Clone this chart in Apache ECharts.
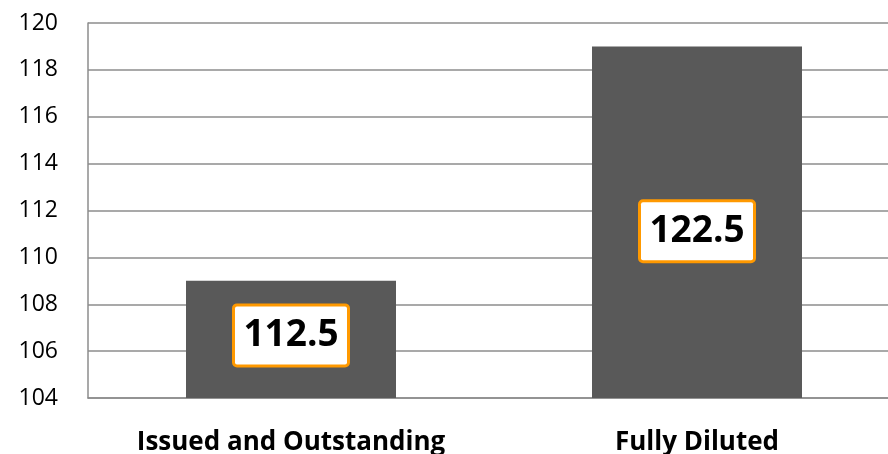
<!DOCTYPE html>
<html>
<head>
<meta charset="utf-8">
<script src="https://cdn.jsdelivr.net/npm/echarts@6/dist/echarts.min.js"></script>
<style>html,body{margin:0;padding:0;background:#fff;overflow:hidden}#wrap{position:relative;width:888px;height:454px;overflow:hidden}#c{position:absolute;left:0;top:0;width:900px;height:454px}</style>
</head>
<body>
<div id="wrap"><div id="c"></div></div>
<script>
var categories = ['Issued and Outstanding', 'Fully Diluted'];
var values = [109, 119];
var labelTexts = ['112.5', '122.5'];
var yTicks = [104, 106, 108, 110, 112, 114, 116, 118, 120];

var labelOffsets = [[0, -4], [0, 9]];
var chart = echarts.init(document.getElementById('c'), null, {renderer: 'canvas'});
chart.setOption({
  animation: false,
  backgroundColor: '#fff',
  grid: {left: 88, right: 0, top: 23, height: 375, containLabel: false, outerBoundsMode: 'none'},
  xAxis: {
    type: 'category',
    data: categories,
    axisLine: {show: true, lineStyle: {color: '#8c8c8c', width: 1.5}},
    axisTick: {show: false},
    axisLabel: {color: '#000', fontFamily: 'Open Sans', fontWeight: 'bold', fontSize: 26, margin: 32}
  },
  yAxis: {
    type: 'value',
    min: yTicks[0],
    max: yTicks[yTicks.length - 1],
    interval: 2,
    axisLine: {show: true, lineStyle: {color: '#8c8c8c', width: 1.5}},
    axisTick: {show: false},
    splitLine: {show: true, lineStyle: {color: '#8c8c8c', width: 1.5}},
    axisLabel: {color: '#000', fontFamily: 'Open Sans', fontSize: 23, margin: 30}
  },
  series: [{
    type: 'bar',
    barWidth: 210,
    itemStyle: {color: '#595959'},
    data: values.map(function (v, i) {
      return {
        value: v,
        label: {
          show: true,
          position: 'inside',
          offset: labelOffsets[i],
          formatter: labelTexts[i],
          color: '#000',
          fontFamily: 'Open Sans',
          fontWeight: 'bold',
          fontSize: 37,
          backgroundColor: '#fff',
          borderColor: '#ff9900',
          borderWidth: 3,
          borderRadius: 2,
          width: 100,
          height: 50,
          lineHeight: 50,
          align: 'center',
          padding: [4, 6, 4, 6]
        }
      };
    })
  }]
});
</script>
</body>
</html>
